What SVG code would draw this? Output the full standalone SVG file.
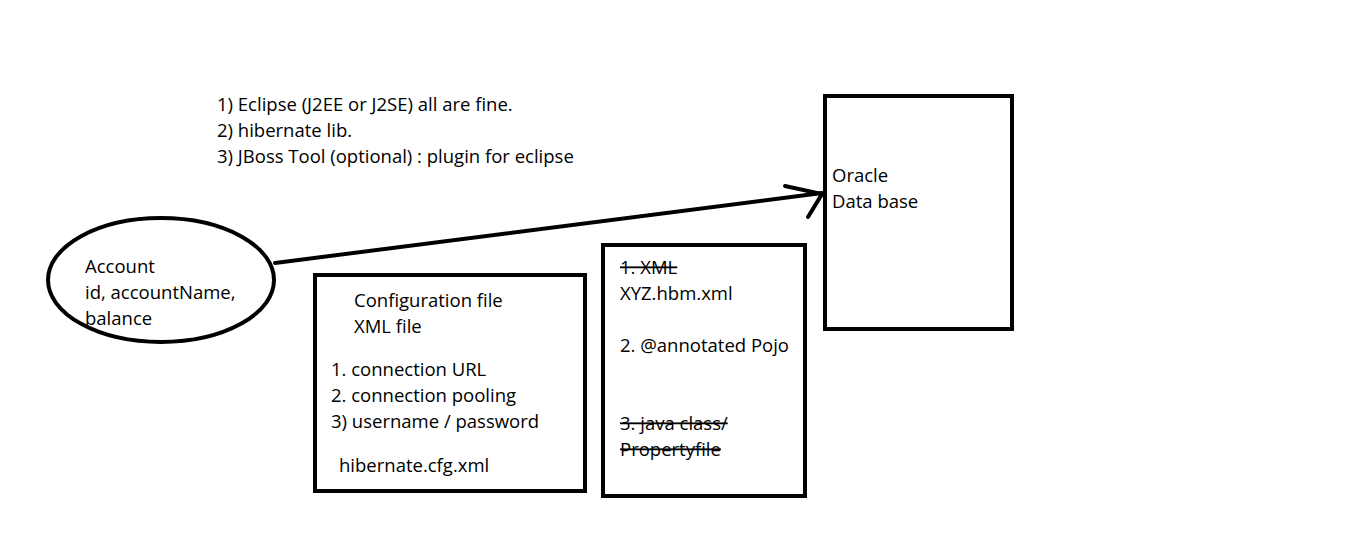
<svg xmlns="http://www.w3.org/2000/svg" width="1360" height="549" viewBox="0 0 1360 549">
<style>
text{font-family:"Open Sans","Noto Sans",sans-serif;font-size:18.5px;fill:#000}
.s{fill:none;stroke:#000;stroke-width:4}
.st{text-decoration:line-through}
</style>
<rect width="1360" height="549" fill="#fff"/>
<g id="notes">
<text x="217" y="111">1) Eclipse (J2EE or J2SE) all are fine.</text>
<text x="217" y="137">2) hibernate lib.</text>
<text x="217" y="163">3) JBoss Tool (optional) : plugin for eclipse</text>
</g>
<g id="account">
<ellipse class="s" cx="161" cy="280" rx="113" ry="62"/>
<text x="85" y="273">Account</text>
<text x="85" y="299">id, accountName,</text>
<text x="85" y="325">balance</text>
</g>
<g id="config">
<rect class="s" x="315" y="275" width="270" height="216"/>
<text x="354" y="307">Configuration file</text>
<text x="354" y="333">XML file</text>
<text x="331" y="376">1. connection URL</text>
<text x="331" y="402">2. connection pooling</text>
<text x="331" y="428">3) username / password</text>
<text x="339" y="472">hibernate.cfg.xml</text>
</g>
<g id="mapping">
<rect class="s" x="603" y="245" width="202" height="251"/>
<text class="st" x="620" y="274">1. XML</text>
<text x="620" y="300">XYZ.hbm.xml</text>
<text x="620" y="352">2. @annotated Pojo</text>
<text class="st" x="620" y="430">3. java class/</text>
<text class="st" x="620" y="456">Propertyfile</text>
</g>
<g id="oracle">
<rect class="s" x="825" y="96" width="187" height="233"/>
<text x="832" y="182">Oracle</text>
<text x="832" y="208">Data base</text>
</g>
<g id="connectors" fill="none" stroke="#000" stroke-width="4" stroke-linecap="round">
<path d="M275 263 L822 193"/>
<path d="M785 186 L822 194 L808 217"/>
</g>
</svg>
